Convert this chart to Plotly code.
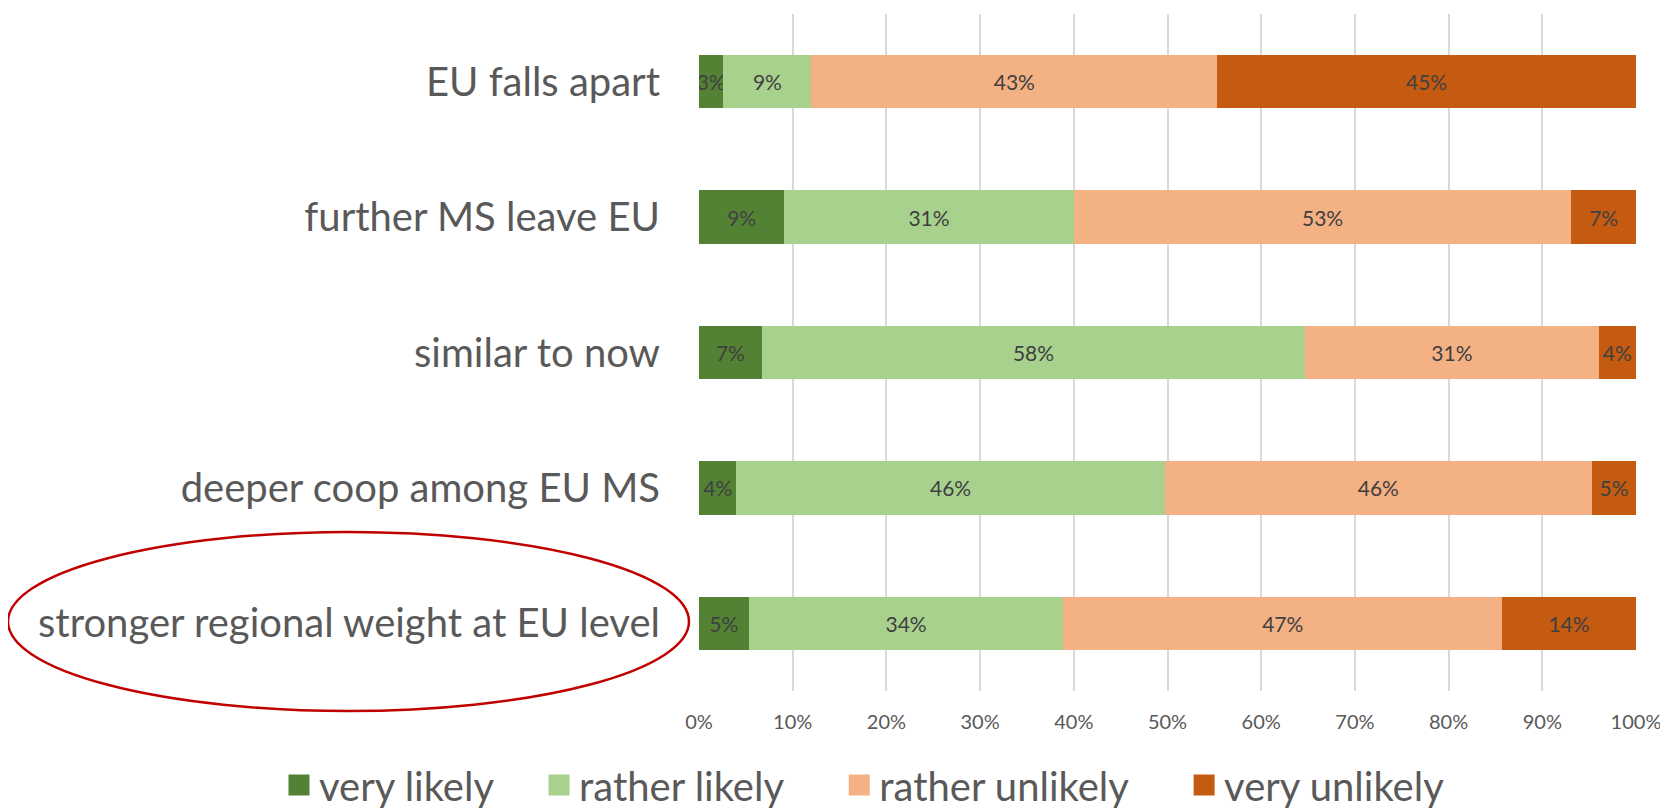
import plotly.graph_objects as go

categories = ["EU falls apart", "further MS leave EU", "similar to now",
              "deeper coop among EU MS", "stronger regional weight at EU level"]
series_names = ["very likely", "rather likely", "rather unlikely", "very unlikely"]
very_likely = [2.6, 9.1, 6.7, 4.0, 5.3]
rather_likely = [9.4, 30.9, 58.0, 45.7, 33.6]
rather_unlikely = [43.3, 53.1, 31.3, 45.6, 46.8]
very_unlikely = [44.7, 6.9, 4.0, 4.7, 14.3]
x_tick_vals = [0, 10, 20, 30, 40, 50, 60, 70, 80, 90, 100]
x_tick_text = ["0%", "10%", "20%", "30%", "40%", "50%", "60%", "70%", "80%", "90%", "100%"]

colors = ["#548235", "#A9D18E", "#F4B183", "#C55A11"]
series_values = [very_likely, rather_likely, rather_unlikely, very_unlikely]

FONT = "Lato"
fig = go.Figure()
for name, vals, col in zip(series_names, series_values, colors):
    fig.add_trace(go.Bar(
        y=categories, x=vals, name=name, orientation="h",
        marker=dict(color=col, line=dict(width=0)),
        texttemplate="%{x:.0f}%", textposition="inside", textangle=0,
        insidetextanchor="middle", constraintext="none",
        textfont=dict(family=FONT, size=21, color="#404040"),
        showlegend=False, hoverinfo="skip",
    ))
# legend proxies with larger square markers (padding widens entry spacing)
pads = [4, 5, 5, 0]
for name, col, n in zip(series_names, colors, pads):
    fig.add_trace(go.Scatter(
        x=[None], y=[None], mode="markers",
        name=name + "\u00a0" * n,
        marker=dict(symbol="square", size=16, color=col,
                    line=dict(color=col, width=5)),
        showlegend=True,
    ))

# page body has an 8px margin: figure coords = reference coords - 8
OFF = 8
W, H = 1668 - OFF, 809 - OFF
L, R, T, B = 699 - OFF, 1668 - 1636, 14 - OFF, 809 - 691
pw, ph = W - L - R, H - T - B

def px_x(p):
    return (p - OFF - L) / pw

def px_y(p):
    return (H - B - (p - OFF)) / ph

fig.update_layout(
    width=W, height=H,
    margin=dict(l=L, r=R, t=T, b=B, autoexpand=False),
    barmode="stack", bargap=0.605,
    plot_bgcolor="white", paper_bgcolor="white",
    font=dict(family=FONT, color="#595959"),
    uniformtext=dict(minsize=21, mode="show"),
    legend=dict(
        orientation="h", xref="paper", yref="paper",
        x=px_x(279), xanchor="left",
        y=px_y(785), yanchor="middle",
        font=dict(family=FONT, size=40, color="#595959"),
        itemsizing="trace", traceorder="normal",
        itemwidth=30, bgcolor="rgba(0,0,0,0)",
    ),
    xaxis=dict(
        range=[0, 100], tickvals=x_tick_vals, ticktext=x_tick_text,
        showgrid=True, gridcolor="#D9D9D9", gridwidth=1.5,
        zeroline=False, showline=False, ticks="",
        tickfont=dict(family=FONT, size=20, color="#595959"),
        ticklabelstandoff=17, fixedrange=True,
    ),
    yaxis=dict(
        categoryorder="array", categoryarray=categories,
        autorange="reversed", showgrid=False, zeroline=False,
        showline=False, ticks="",
        tickfont=dict(family=FONT, size=40, color="#595959"),
        ticklabelstandoff=38,
    ),
    shapes=[dict(
        type="circle", xref="paper", yref="paper",
        x0=px_x(8), x1=px_x(689), y0=px_y(711), y1=px_y(532),
        line=dict(color="#C00000", width=2.5), layer="above",
    )],
)

fig.write_html("out.html")
